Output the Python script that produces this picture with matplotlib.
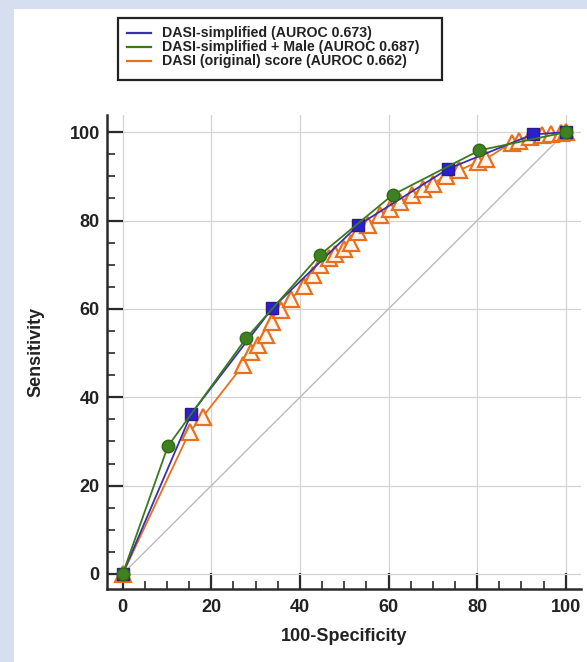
import matplotlib
matplotlib.use("Agg")
import matplotlib.pyplot as plt
from matplotlib.patches import Rectangle
from matplotlib.lines import Line2D
from matplotlib.ticker import MultipleLocator

plt.rcParams['font.family'] = ['Liberation Sans', 'DejaVu Sans']
plt.rcParams['font.weight'] = 'bold'

# ROC points (100-Specificity, Sensitivity)
simp_x = [0, 15.5, 33.8, 53.1, 73.4, 92.5, 100]
simp_y = [0, 36.3, 60.2, 78.9, 91.7, 99.5, 100]

male_x = [0, 10.2, 27.9, 44.5, 60.9, 80.5, 100]
male_y = [0, 28.9, 53.4, 72.2, 85.8, 95.9, 100]

orig_x = [0, 15.1, 18.1, 27.2, 29.0, 30.5, 32.4, 33.8, 35.7, 38.0, 41.0, 43.0,
          44.5, 46.5, 48.0, 50.0, 51.5, 53.0, 55.3, 58.0, 60.3, 62.6, 65.2, 67.7,
          70.0, 73.0, 76.0, 80.2, 82.0, 87.8, 89.5, 91.9, 94.6, 96.7, 99.0, 100]
orig_y = [0, 32.2, 35.6, 47.3, 50.3, 51.8, 54.1, 57.0, 59.7, 62.3, 65.3, 67.6,
          69.9, 71.5, 72.5, 73.6, 75.0, 77.5, 78.9, 81.2, 82.7, 84.2, 85.7, 87.2,
          88.3, 90.2, 91.4, 93.3, 94.0, 97.6, 98.0, 98.9, 99.3, 99.7, 99.8, 100]

labels = ['DASI-simplified (AUROC 0.673)',
          'DASI-simplified + Male (AUROC 0.687)',
          'DASI (original) score (AUROC 0.662)']

blue = '#3a2fb0'
green = '#3b7a1c'
orange = '#e8701e'

W, H = 587, 662
fig = plt.figure(figsize=(W / 100, H / 100), dpi=100)
fig.patch.set_facecolor('#d5dff0')
fig.add_artist(Rectangle((14 / W, 0), 1, 1 - 9 / H, transform=fig.transFigure,
                         facecolor='white', edgecolor='none', zorder=-5))

ax = fig.add_axes([0.1818, 0.1103, 0.8085, 0.716])
ax.set_facecolor('white')

ax.plot([0, 100], [0, 100], color='#bbbbbb', lw=1.0, zorder=1)

ax.plot(orig_x, orig_y, color=orange, lw=1.3, marker='^', ms=11,
        mfc='#fff6ee', mec=orange, mew=1.6, zorder=2)
ax.plot(simp_x, simp_y, color=blue, lw=1.3, marker='s', ms=8,
        mfc='#2a20d0', mec='#2a1c8c', mew=1.0, zorder=3)
ax.plot(male_x, male_y, color=green, lw=1.3, marker='o', ms=9,
        mfc='#3f8020', mec='#2f6a14', mew=1.0, zorder=4)

ax.set_xlim(-3.6, 103.5)
ax.set_ylim(-3.4, 103.9)
ax.xaxis.set_major_locator(MultipleLocator(20))
ax.yaxis.set_major_locator(MultipleLocator(20))
ax.xaxis.set_minor_locator(MultipleLocator(5))
ax.yaxis.set_minor_locator(MultipleLocator(5))
ax.grid(True, which='major', color='#d4d4d4', lw=0.9, zorder=0)
ax.set_axisbelow(True)

for s in ['top', 'right']:
    ax.spines[s].set_visible(False)
for s in ['left', 'bottom']:
    ax.spines[s].set_linewidth(1.8)
    ax.spines[s].set_color('#2a2a2a')

ax.tick_params(which='major', direction='in', length=11.5, width=1.6, color='#2a2a2a',
               labelsize=13, labelcolor='#222222')
ax.tick_params(axis='x', which='major', pad=7)
ax.tick_params(axis='y', which='major', pad=5)
ax.tick_params(which='minor', direction='in', length=5.5, width=1.2, color='#2a2a2a')

ax.set_xlabel('100-Specificity', fontsize=13, fontweight='bold', color='#222222', labelpad=9)
ax.set_ylabel('Sensitivity', fontsize=13, fontweight='bold', color='#222222', labelpad=18)

# legend box drawn by hand to match the original spacing
fig.add_artist(Rectangle((118 / W, 1 - 80 / H), (442 - 118) / W, 62 / H,
                         transform=fig.transFigure, facecolor='white',
                         edgecolor='#222222', lw=1.6, zorder=5))
for i, (lab, col) in enumerate(zip(labels, [blue, green, orange])):
    yy = 1 - (32.5 + 14.3 * i) / H
    fig.add_artist(Line2D([127 / W, 151 / W], [yy, yy], transform=fig.transFigure,
                          color=col, lw=1.6, zorder=6))
    fig.text(162 / W, yy, lab, fontsize=10.2, fontweight='bold', color='#222222',
             va='center', ha='left', zorder=6)

fig.savefig('out.png', dpi=100, facecolor=fig.get_facecolor())
